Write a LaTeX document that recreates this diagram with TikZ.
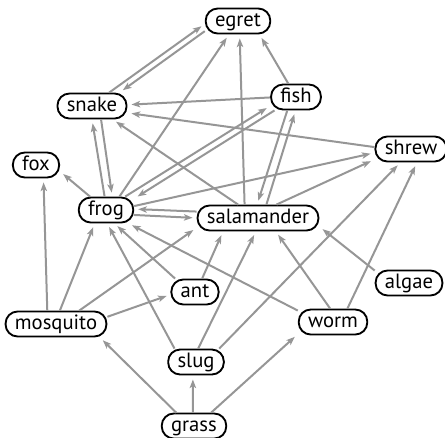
\documentclass[tikz,border=0pt]{standalone}
\usepackage{fontspec}
\setmainfont{PT Sans}
\usetikzlibrary{arrows.meta}
\definecolor{linkgray}{RGB}{150,150,150}
\tikzset{
  species/.style = {rectangle, rounded corners=9pt, draw=black, line width=1.4pt, fill=white,
                    minimum height=18.75pt, inner xsep=7pt, inner ysep=0pt,
                    text height=10.6pt, text depth=2.6pt, font=\fontsize{15.5}{18}\selectfont},
  link/.style    = {-{Stealth[length=6.5pt, width=4.8pt, inset=1.6pt]}, line width=1.5pt,
                    draw=linkgray, shorten >=3pt},
}

\begin{document}
\begin{tikzpicture}[x=0.75pt, y=-0.75pt]
      \clip (0,0) rectangle (445,437);
      \node[species] (egret)      at (238, 21)  {egret};
      \node[species] (snake)      at (92, 106)  {snake};
      \node[species] (fish)       at (296, 97)  {fish};
      \node[species] (fox)        at (36, 165)  {fox};
      \node[species] (shrew)      at (411, 149) {shrew};
      \node[species] (frog)       at (106, 210) {frog};
      \node[species] (salamander) at (258, 218) {salamander};
      \node[species] (algae)      at (409, 283) {algae};
      \node[species] (ant)        at (195, 292) {ant};
      \node[species] (mosquito)   at (56, 324)  {mosquito};
      \node[species] (worm)       at (333, 322) {worm};
      \node[species] (slug)       at (196, 362) {slug};
      \node[species] (grass)      at (194, 426) {grass};
      % top of the web
      \draw[link] (snake.38) -- (egret.185);
      \draw[link] (egret.197) -- (snake.26);
      \draw[link] (frog.45) -- (egret.236);
      \draw[link] (salamander.135) -- (egret.277);
      \draw[link] (fish.120) -- (egret.328);
      \draw[link] (fish.181) -- (snake.2);
      \draw[link] (shrew.177) -- (snake.349);
      \draw[link] (salamander.146) -- (snake.327);
      \draw[link] (frog.96) -- (snake.270);
      \draw[link] (snake.304) -- (frog.65);
      \draw[link] (frog.140) -- (fox.345);
      \draw[link] (mosquito.123) -- (fox.299);
      \draw[link] (frog.35) -- (fish.199);
      \draw[link] (fish.212) -- (frog.22);
      \draw[link] (fish.237) -- (salamander.94);
      \draw[link] (salamander.58) -- (fish.268);
      \draw[link] (frog.8) -- (shrew.186);
      \draw[link] (salamander.36) -- (shrew.196);
      \draw[link] (salamander.174) -- (frog.2);
      \draw[link] (frog.350) -- (salamander.180);
      % middle
      \draw[link] (mosquito.74) -- (frog.230);
      \draw[link] (mosquito.30) -- (salamander.189);
      \draw[link] (mosquito.8) -- (ant.186);
      \draw[link] (ant.146) -- (frog.302);
      \draw[link] (ant.62) -- (salamander.201);
      \draw[link] (slug.148) -- (frog.275);
      \draw[link] (slug.81) -- (salamander.261);
      \draw[link] (slug.30) -- (shrew.232);
      \draw[link] (worm.162) -- (frog.329);
      \draw[link] (worm.102) -- (salamander.323);
      \draw[link] (worm.43) -- (shrew.294);
      \draw[link] (algae.160) -- (salamander.352);
      % bottom
      \draw[link] (grass.143) -- (mosquito.343);
      \draw[link] (grass.95) -- (slug.257);
      \draw[link] (grass.38) -- (worm.199);
    \end{tikzpicture}
\end{document}
